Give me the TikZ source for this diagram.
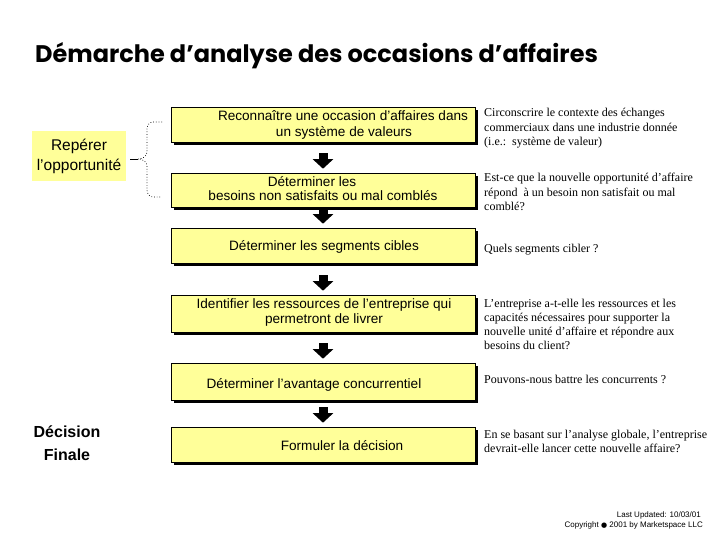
\documentclass[tikz,border=0pt]{standalone}
\usepackage{fontspec}
\setmainfont{Liberation Sans}
\newfontfamily\serifR{Liberation Serif}
\newfontfamily\titlef{Poppins}
\newfontfamily\dejavu{DejaVu Sans}
\usetikzlibrary{shadows,arrows.meta}
\definecolor{boxyellow}{HTML}{FFFF99}
\begin{document}
\begin{tikzpicture}[x=1pt,y=-1pt,
  stepbox/.style={draw=black, line width=0.6pt, fill=boxyellow, minimum width=304pt, inner sep=0pt,
    drop shadow={shadow xshift=3pt, shadow yshift=-3pt, fill=black, opacity=1}},
  boxtext/.style={anchor=base, inner sep=0pt, font=\fontsize{13.6}{15}\selectfont},
  note/.style={anchor=base west, inner sep=0pt, align=left, font=\serifR\fontsize{12}{14.2}\selectfont},
  flowarrow/.style={line width=9pt, -{Triangle[width=20pt,length=9.5pt]}, shorten >=4pt},
  brace/.style={dotted, line width=0.7pt}
]
\useasboundingbox (0,0) rectangle (720,540);
% title
\node[anchor=base west, inner sep=0pt, font=\titlef\bfseries\fontsize{24}{28}\selectfont] (title) at (35,63) {Démarche d’analyse des occasions d’affaires};
% step boxes
\node[stepbox, minimum height=35pt] (b1) at (323,124.5) {};
\node[stepbox, minimum height=34pt] (b2) at (323,190) {};
\node[stepbox, minimum height=35pt] (b3) at (323,245.5) {};
\node[stepbox, minimum height=37pt] (b4) at (323,313.5) {};
\node[stepbox, minimum height=37pt] (b5) at (323,381.5) {};
\node[stepbox, minimum height=35pt] (b6) at (323,444.5) {};
% box texts
\node[boxtext] (t1a) at (343,121) {Reconnaître une occasion d'affaires dans};
\node[boxtext] (t1b) at (344,137) {un système de valeurs};
\node[boxtext] (t2a) at (312,187) {Déterminer les};
\node[boxtext] (t2b) at (323,201) {besoins non satisfaits ou mal comblés};
\node[boxtext] (t3) at (324,251) {Déterminer les segments cibles};
\node[boxtext] (t4a) at (324,308) {Identifier les ressources de l'entreprise qui};
\node[boxtext] (t4b) at (324,323) {permetront de livrer};
\node[boxtext] (t5) at (314,388) {Déterminer l'avantage concurrentiel};
\node[boxtext] (t6) at (342,450) {Formuler la décision};
% arrows
\draw[flowarrow, shorten <=11pt] (b1) -- (b2);
\draw[flowarrow, shorten <=2pt] (b2) -- (b3);
\draw[flowarrow, shorten <=12pt] (b3) -- (b4);
\draw[flowarrow, shorten <=11pt] (b4) -- (b5);
\draw[flowarrow, shorten <=7pt] (b5) -- (b6);
% notes (anchored at the baseline of their last line)
\node[note] (n1) at (484,145.4) {Circonscrire le contexte des échanges\\commerciaux dans une industrie donnée\\(i.e.:\ \ système de valeur)};
\node[note] (n2) at (484,210.4) {Est-ce que la nouvelle opportunité d’affaire\\répond\ \ à un besoin non satisfait ou mal\\comblé?};
\node[note] (n3) at (484,252) {Quels segments cibler ?};
\node[note] (n4) at (484,349.6) {L’entreprise a-t-elle les ressources et les\\capacités nécessaires pour supporter la\\nouvelle unité d’affaire et répondre aux\\besoins du client?};
\node[note] (n5) at (484,383) {Pouvons-nous battre les concurrents ?};
\node[note] (n6) at (484,452.2) {En se basant sur l’analyse globale, l’entreprise\\devrait-elle lancer cette nouvelle affaire?};
% left labels
\node[fill=boxyellow, minimum width=94pt, minimum height=50pt, inner sep=0pt, align=center,
  font=\fontsize{15.5}{20}\selectfont] (lb) at (79,156) {Repérer\\l'opportunité};
\node[inner sep=0pt, align=center, font=\bfseries\fontsize{16}{23}\selectfont] (dec) at (67,443) {Décision\\Finale};
% brace
\coordinate (bt) at (138,159);
\coordinate (btop) at (162,122);
\coordinate (bbot) at (162,197);
\draw[brace] (btop) -- (153,122) to[out=180,in=90] (147,129) -- (147,152) to[out=-90,in=0] (bt)
  to[out=0,in=90] (147,166) -- (147,190) to[out=-90,in=180] (153,197) -- (bbot);
\draw[line width=0.6pt] ([shift={(4,3)}]lb.east) -- (bt);
% footer
\node[anchor=base east, inner sep=0pt, font=\fontsize{8}{9}\selectfont] (upd) at (701,517) {Last Updated: 10/03/01};
\node[anchor=base east, inner sep=0pt, font=\fontsize{8}{9}\selectfont] (copy) at (703,527) {Copyright {\dejavu\fontsize{7}{9}\selectfont ●} 2001 by Marketspace LLC};
\end{tikzpicture}
\end{document}
